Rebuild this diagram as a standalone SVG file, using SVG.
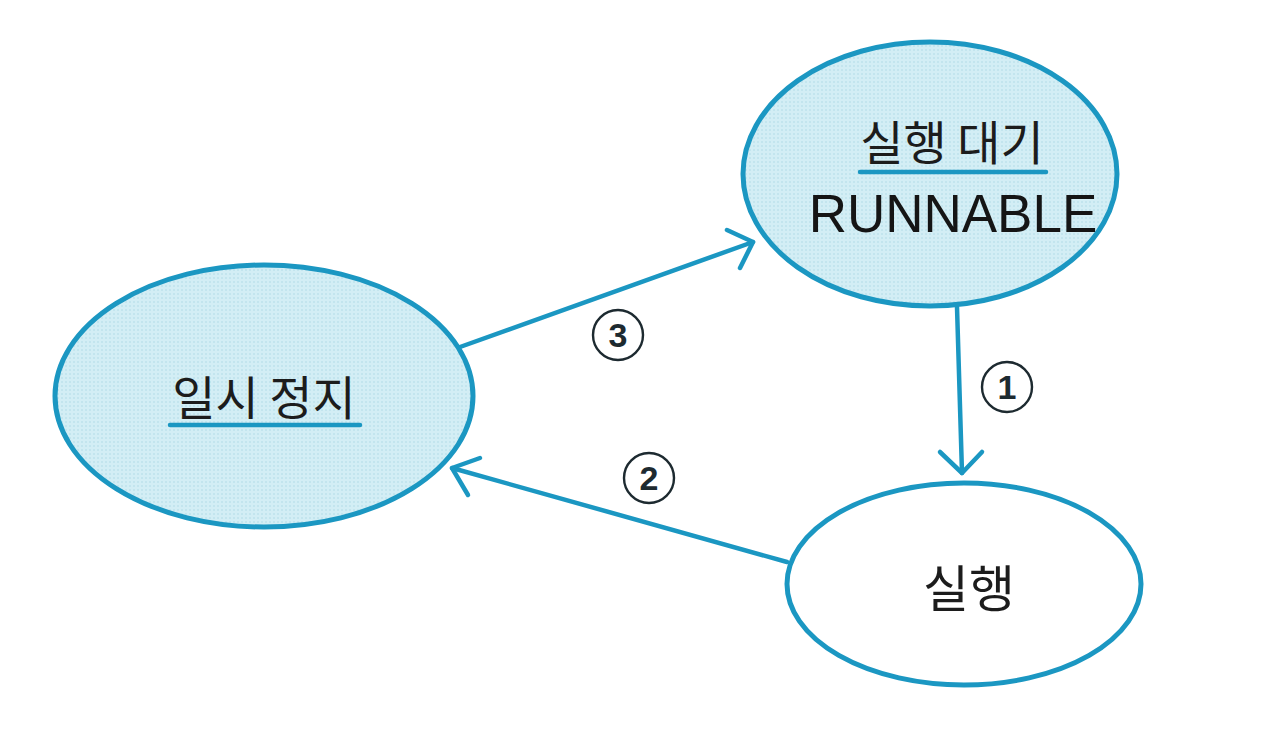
<svg xmlns="http://www.w3.org/2000/svg" width="1280" height="753" viewBox="0 0 1280 753">
<defs>
<pattern id="dots" width="4" height="4" patternUnits="userSpaceOnUse">
<rect width="4" height="4" fill="#d3eef5"/>
<circle cx="2" cy="2" r="0.8" fill="#b0dbe7"/>
</pattern>
<style>
.node{stroke:#1b97c2;stroke-width:5}
.shaded{fill:url(#dots)}
.plain{fill:#ffffff}
.ko{font-family:"Noto Sans CJK KR","Noto Sans",sans-serif;fill:#1c1c1c}
.en{font-family:"Liberation Sans",Arial,sans-serif;fill:#151515}
.ul{stroke:#1b97c2;stroke-width:4.5;stroke-linecap:round}
.edge{stroke:#1b97c2;stroke-width:4.5;fill:none;stroke-linecap:round;stroke-linejoin:round}
.num circle{fill:#ffffff;stroke:#1d2a30;stroke-width:2.4}
.num text{font-family:"Liberation Sans",Arial,sans-serif;font-weight:bold;font-size:34px;fill:#1d2a30;text-anchor:middle}
</style>
</defs>
<rect width="1280" height="753" fill="#ffffff"/>
<g id="connectors">
<path class="edge" d="M460 347 L753 242"/>
<path class="edge" d="M727 230 L753 242 L740 268"/>
<path class="edge" d="M787 562 L452 468"/>
<path class="edge" d="M480 458 L452 468 L468 495"/>
<path class="edge" d="M957 307 L962 473"/>
<path class="edge" d="M940 452 L962 473 L982 452"/>
</g>
<g id="node-runnable">
<ellipse class="node shaded" cx="930" cy="174" rx="187" ry="132"/>
<text class="ko" x="952" y="160" font-size="47" text-anchor="middle">실행 대기</text>
<line class="ul" x1="860" y1="172" x2="1046" y2="172"/>
<text class="en" x="953" y="232" font-size="53" text-anchor="middle">RUNNABLE</text>
</g>
<g id="node-paused">
<ellipse class="node shaded" cx="264" cy="396" rx="209" ry="131"/>
<text class="ko" x="264" y="415" font-size="47" text-anchor="middle">일시 정지</text>
<line class="ul" x1="170" y1="425" x2="360" y2="425"/>
</g>
<g id="node-running">
<ellipse class="node plain" cx="964" cy="584" rx="177" ry="101"/>
<text class="ko" x="969" y="607" font-size="50" text-anchor="middle">실행</text>
</g>
<g id="label-1" class="num">
<circle cx="1007" cy="387" r="25"/>
<text x="1007" y="399">1</text>
</g>
<g id="label-2" class="num">
<circle cx="649" cy="478" r="25"/>
<text x="649" y="490">2</text>
</g>
<g id="label-3" class="num">
<circle cx="618" cy="335" r="25"/>
<text x="618" y="347">3</text>
</g>
</svg>
